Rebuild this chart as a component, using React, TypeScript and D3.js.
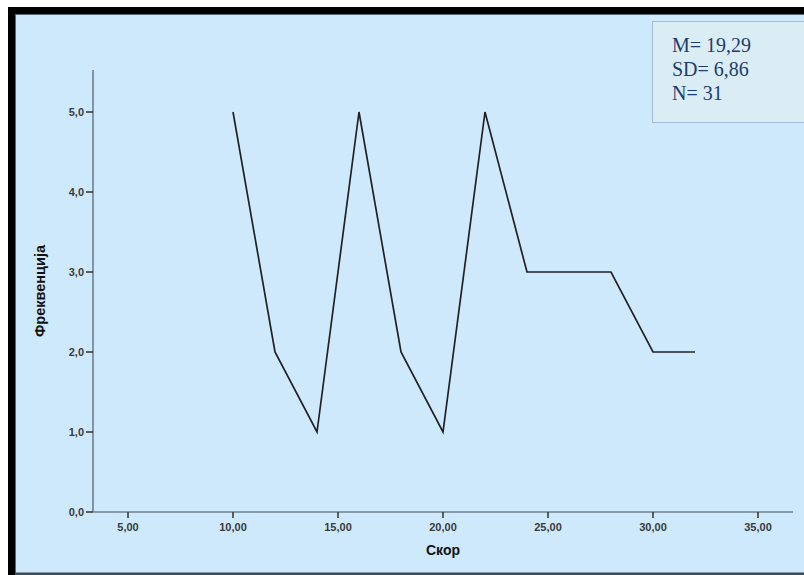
import React from "react";
import * as d3 from "d3";

const scores = [10, 12, 14, 16, 18, 20, 22, 24, 26, 28, 30, 32];
const freqs = [5, 2, 1, 5, 2, 1, 5, 3, 3, 3, 2, 2];
const xTicks = [5, 10, 15, 20, 25, 30, 35];
const yTicks = [0, 1, 2, 3, 4, 5];
const statsLines = ["M= 19,29", "SD= 6,86", "N= 31"];

const W = 804;
const H = 575;

export default function App() {
  const x = d3.scaleLinear().domain([3.333, 36.667]).range([93, 793]);
  const y = d3.scaleLinear().domain([0, 5.525]).range([512, 70]);
  const line = d3
    .line<number>()
    .x((_, i) => x(scores[i]))
    .y((d) => y(d));
  const fmt1 = (v: number) => v.toFixed(1).replace(".", ",");
  const fmt2 = (v: number) => v.toFixed(2).replace(".", ",");
  const tickFont = "'Liberation Sans', Arial, sans-serif";
  return (
    <svg
      width={W}
      height={H}
      style={{ position: "absolute", left: 0, top: 0, background: "#ffffff" }}
    >
      {/* frame */}
      <rect x={8} y={7} width={W - 8} height={H - 7} fill="#000" />
      <rect x={15} y={14} width={W - 15} height={H - 14 - 2} fill="#cee9fc" />
      <line x1={15.5} y1={14} x2={15.5} y2={H - 2} stroke="#5a6b78" strokeWidth={1} />
      <line x1={15} y1={14.5} x2={W} y2={14.5} stroke="#5a6b78" strokeWidth={1} />
      <rect x={15} y={H - 2.5} width={W - 15} height={2.5} fill="#3c4b57" />

      {/* axes */}
      <line x1={x.range()[0]} y1={y(0)} x2={x.range()[1]} y2={y(0)} stroke="#6f7f8c" strokeWidth={1.6} />
      <line x1={x.range()[0]} y1={y(0)} x2={x.range()[0]} y2={y.range()[1]} stroke="#6f7f8c" strokeWidth={1.6} />

      {yTicks.map((t) => (
        <g key={"y" + t}>
          <line x1={x.range()[0] - 7} x2={x.range()[0]} y1={y(t)} y2={y(t)} stroke="#3a3a3a" strokeWidth={1.6} />
          <text
            x={x.range()[0] - 9}
            y={y(t)}
            dy="0.35em"
            textAnchor="end"
            fontFamily={tickFont}
            fontSize={11}
            fontWeight="bold"
            fill="#3a3a3a"
          >
            {fmt1(t)}
          </text>
        </g>
      ))}
      {xTicks.map((t) => (
        <g key={"x" + t}>
          <line x1={x(t)} x2={x(t)} y1={y(0)} y2={y(0) + 6} stroke="#3a3a3a" strokeWidth={1.6} />
          <text
            x={x(t)}
            y={y(0) + 19}
            textAnchor="middle"
            fontFamily={tickFont}
            fontSize={11}
            fontWeight="bold"
            fill="#3a3a3a"
          >
            {fmt2(t)}
          </text>
        </g>
      ))}

      {/* axis titles */}
      <text
        x={(x.range()[0] + x.range()[1]) / 2}
        y={555}
        textAnchor="middle"
        fontFamily={tickFont}
        fontSize={14}
        fontWeight="bold"
        fill="#111"
      >
        Скор
      </text>
      <text
        transform={`translate(45, ${(y.range()[0] + y.range()[1]) / 2}) rotate(-90)`}
        textAnchor="middle"
        fontFamily={tickFont}
        fontSize={14.5}
        fontWeight="bold"
        fill="#111"
      >
        Фреквенција
      </text>

      {/* data line */}
      <path d={line(freqs) || ""} fill="none" stroke="#222" strokeWidth={1.7} strokeLinejoin="miter" />

      {/* stats box */}
      <rect x={652.5} y={21.5} width={W} height={101} fill="#daedf5" stroke="#a0bcd8" strokeWidth={1} />
      {statsLines.map((s, i) => (
        <text
          key={s}
          x={672}
          y={52 + i * 24}
          fontFamily="'Liberation Serif', 'Times New Roman', serif"
          fontSize={20}
          fill="#1f3c6b"
        >
          {s}
        </text>
      ))}
    </svg>
  );
}
